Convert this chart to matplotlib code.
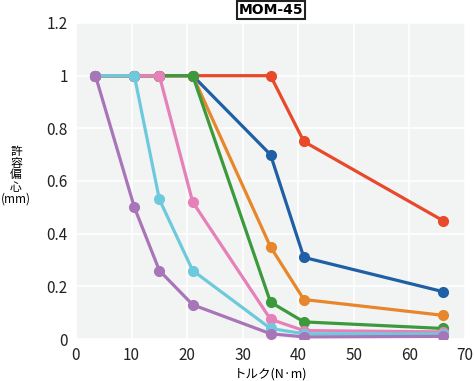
import matplotlib.pyplot as plt

plt.rcParams['font.family'] = ['Noto Sans CJK JP', 'DejaVu Sans']

# トルク (N·m)
torque = [3.5, 10.5, 15, 21, 35, 41, 66]

# 許容偏心 (mm) - 各系列
red = [1, 1, 1, 1, 1, 0.75, 0.45]
blue = [1, 1, 1, 1, 0.70, 0.31, 0.18]
orange = [1, 1, 1, 1, 0.35, 0.15, 0.09]
green = [1, 1, 1, 1, 0.14, 0.065, 0.04]
pink = [1, 1, 1, 0.52, 0.075, 0.032, 0.027]
cyan = [1, 1, 0.53, 0.26, 0.04, 0.02, 0.019]
purple = [1, 0.50, 0.26, 0.13, 0.02, 0.008, 0.01]

series = [red, blue, orange, green, pink, cyan, purple]
colors = ['#e8492b', '#1f5fa5', '#e8862c', '#3b9a3c', '#e680b9', '#6dcadc', '#a875b9']

ylabel_chars = ['許', '容', '偏', '心', '(mm)']

fig = plt.figure(figsize=(4.75, 3.81), dpi=100)
ax = fig.add_axes([76 / 475, 1 - 339 / 381, (465 - 76) / 475, (339 - 23) / 381])
ax.set_facecolor('#f2f3f3')

# 下の系列ほど上に描く
for i, (vals, c) in enumerate(zip(series, colors)):
    ax.plot(torque, vals, color=c, linewidth=2.3, marker='o', markersize=7,
            zorder=3 + i)

ax.set_xlim(0, 70)
ax.set_ylim(0, 1.2)
ax.set_xticks(range(0, 71, 10))
ax.set_yticks([0, 0.2, 0.4, 0.6, 0.8, 1, 1.2])
ax.set_yticklabels(['0', '0.2', '0.4', '0.6', '0.8', '1', '1.2'])
ax.grid(color='white', linewidth=1.2)
ax.set_axisbelow(True)
for s in ax.spines.values():
    s.set_visible(False)
ax.tick_params(length=0, labelsize=11, pad=6, colors='#222222')

ax.set_xlabel('トルク(N·m)', fontsize=9, labelpad=2)

# 縦書きの軸ラベル
for k, ch in enumerate(ylabel_chars):
    fig.text(16 / 475, 1 - (151 + 12 * k) / 381, ch, ha='center', va='center',
             fontsize=8.5)

fig.text(271 / 475, 1 - 10 / 381, 'MOM-45', ha='center', va='center',
         fontsize=10, fontweight='bold', family='DejaVu Sans',
         bbox=dict(boxstyle='square,pad=0.15', facecolor='white', edgecolor='#222222',
                   linewidth=1.5))

fig.savefig('out.png', dpi=100)
